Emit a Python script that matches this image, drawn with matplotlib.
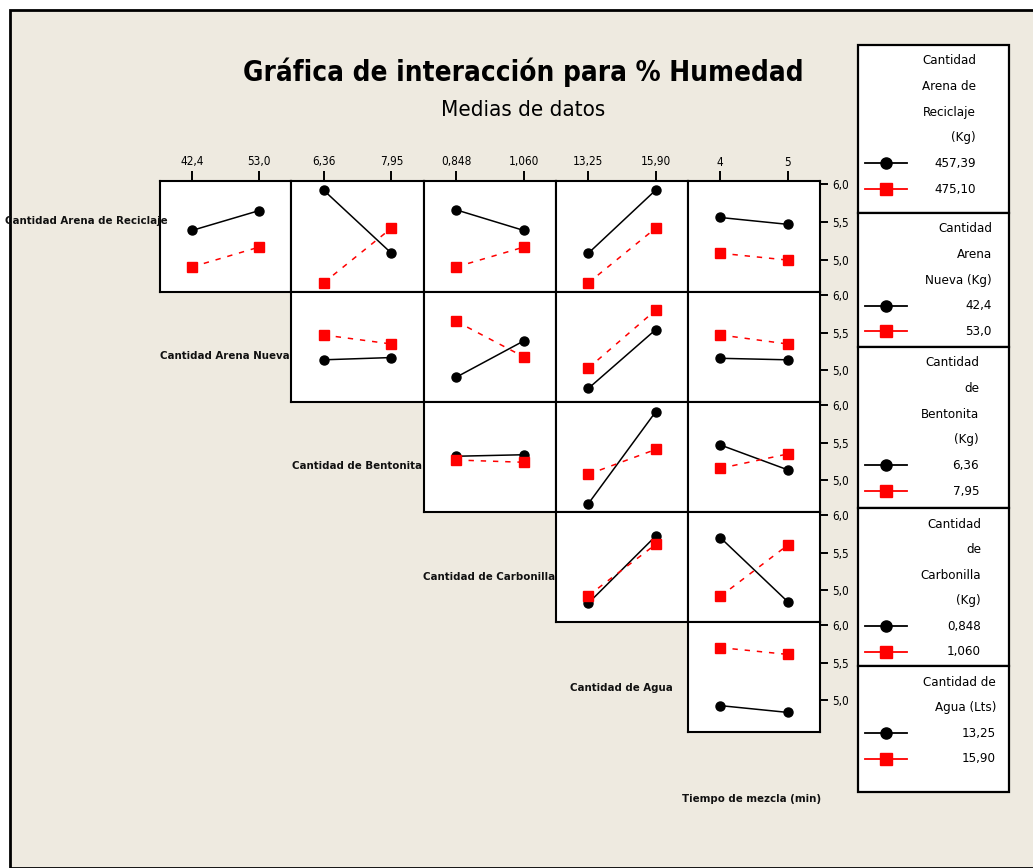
import matplotlib
matplotlib.use("Agg")
import matplotlib.pyplot as plt
from matplotlib.patches import Rectangle
from matplotlib.lines import Line2D

plt.rcParams['font.family'] = ['DejaVu Sans']
plt.rcParams['font.stretch'] = 'condensed'

# Factores (filas = factor de traza, columnas = factor del eje x)
factores = ["Cantidad Arena de Reciclaje", "Cantidad Arena Nueva", "Cantidad de Bentonita",
            "Cantidad de Carbonilla", "Cantidad de Agua", "Tiempo de mezcla (min)"]

# niveles de los factores del eje x (columnas 1..5)
niveles_x = [[42.4, 53.0], [6.36, 7.95], [0.848, 1.060], [13.25, 15.90], [4, 5]]
etiquetas_x = [["42,4", "53,0"], ["6,36", "7,95"], ["0,848", "1,060"], ["13,25", "15,90"], ["4", "5"]]

# Medias de % Humedad (nivel bajo -> negro, nivel alto -> rojo), una pareja por panel
reciclaje_457 = [(5.39, 5.65), (5.92, 5.09), (5.66, 5.39), (5.09, 5.92), (5.56, 5.47)]
reciclaje_475 = [(4.91, 5.17), (4.70, 5.42), (4.91, 5.17), (4.70, 5.42), (5.09, 5.00)]
nueva_424 = [(5.14, 5.17), (4.91, 5.39), (4.76, 5.54), (5.16, 5.14)]
nueva_530 = [(5.47, 5.35), (5.65, 5.18), (5.03, 5.80), (5.47, 5.35)]
bento_636 = [(5.32, 5.34), (4.69, 5.91), (5.47, 5.14)]
bento_795 = [(5.27, 5.24), (5.08, 5.41), (5.16, 5.35)]
carbo_0848 = [(4.83, 5.72), (5.70, 4.85)]
carbo_1060 = [(4.93, 5.61), (4.92, 5.60)]
agua_1325 = [(4.93, 4.84)]
agua_1590 = [(5.70, 5.61)]

medias_bajo = [reciclaje_457, nueva_424, bento_636, carbo_0848, agua_1325]
medias_alto = [reciclaje_475, nueva_530, bento_795, carbo_1060, agua_1590]

y_ticks = [5.0, 5.5, 6.0]
y_ticklabels = ["5,0", "5,5", "6,0"]

leyenda_titulos = [["Cantidad", "Arena de", "Reciclaje", "(Kg)"],
                   ["Cantidad", "Arena", "Nueva (Kg)"],
                   ["Cantidad", "de", "Bentonita", "(Kg)"],
                   ["Cantidad", "de", "Carbonilla", "(Kg)"],
                   ["Cantidad de", "Agua (Lts)"]]
leyenda_niveles = [["457,39", "475,10"], ["42,4", "53,0"], ["6,36", "7,95"],
                   ["0,848", "1,060"], ["13,25", "15,90"]]

W, H = 1033, 868
fig = plt.figure(figsize=(W / 100, H / 100), dpi=100)
fig.patch.set_facecolor("white")

def fx(x):
    return x / W

def fy(y):
    return 1 - y / H

# fondo beige con borde
fig.patches.append(Rectangle((fx(10), 0), 1.0, fy(10), transform=fig.transFigure,
                             facecolor="#eeeae0", edgecolor="black", linewidth=2, zorder=-5))

col_edges = [160, 291, 424, 556, 688, 820]
row_edges = [181, 292, 402, 512, 622, 732]

for r in range(5):
    for c in range(r, 5):
        x0, x1 = col_edges[c], col_edges[c + 1]
        y0, y1 = row_edges[r], row_edges[r + 1]
        ax = fig.add_axes([fx(x0), fy(y1), (x1 - x0) / W, (y1 - y0) / H])
        ax.set_zorder(2)
        ax.set_facecolor("white")
        xs = niveles_x[c]
        d = xs[1] - xs[0]
        ax.set_xlim(xs[0] - 0.48 * d, xs[1] + 0.48 * d)
        ax.set_ylim(4.58, 6.04)
        lo = medias_bajo[r][c - r]
        hi = medias_alto[r][c - r]
        ax.plot(xs, lo, color="black", lw=1.1, marker="o", ms=6.5, zorder=3)
        ax.plot(xs, hi, color="#ff0000", lw=1.1, ls=(0, (3.5, 4.5)), marker="s", ms=6.5, zorder=3)
        for s in ax.spines.values():
            s.set_linewidth(1.5)
        if r == 0:
            ax.xaxis.tick_top()
            ax.set_xticks(xs)
            ax.set_xticklabels(etiquetas_x[c], fontsize=8.5)
            ax.tick_params(axis="x", direction="out", length=7, width=1.4, pad=2)
        else:
            ax.set_xticks([])
        if c == 4:
            ax.yaxis.tick_right()
            ax.set_yticks(y_ticks)
            ax.set_yticklabels(y_ticklabels, fontsize=8.5)
            ax.tick_params(axis="y", direction="out", length=6, width=1.4, pad=3)
        else:
            ax.set_yticks([])

# etiquetas de los factores en la diagonal
etiq_x = [86, 225, 357, 489, 621, 752]
etiq_y = [221, 356, 466, 577, 688, 799]
for nombre, x, y in zip(factores, etiq_x, etiq_y):
    fig.text(fx(x), fy(y), nombre, ha="center", va="center", fontsize=8.2,
             fontweight="bold", color="#111111", zorder=5)

fig.text(fx(523), fy(72), "Gráfica de interacción para % Humedad", ha="center", va="center",
         fontsize=20, fontweight="bold")
fig.text(fx(523), fy(110), "Medias de datos", ha="center", va="center", fontsize=16)

# leyendas
caja_top = [45, 213, 347, 508, 666, 792]
caja_der = [976, 992, 979, 981, 996]
for i in range(5):
    t, b = caja_top[i], caja_top[i + 1]
    fig.patches.append(Rectangle((fx(858), fy(b)), (1009 - 858) / W, (b - t) / H,
                                 transform=fig.transFigure, facecolor="white",
                                 edgecolor="black", linewidth=1.6, zorder=1))
    lineas = leyenda_titulos[i] + leyenda_niveles[i]
    for k, txt in enumerate(lineas):
        y = t + 16 + 25.6 * k
        fig.text(fx(caja_der[i]), fy(y), txt, ha="right", va="center", fontsize=9.5, zorder=3)
    n = len(leyenda_titulos[i])
    for k, (col, mk) in enumerate([("black", "o"), ("#ff0000", "s")]):
        y = t + 16 + 25.6 * (n + k)
        fig.add_artist(Line2D([fx(865), fx(907)], [fy(y), fy(y)], transform=fig.transFigure,
                              color=col, lw=1.3, zorder=3))
        fig.add_artist(Line2D([fx(886)], [fy(y)], transform=fig.transFigure, color=col,
                              marker=mk, ms=8, ls="none", zorder=4))

fig.savefig("out.png", dpi=100, facecolor=fig.get_facecolor())
